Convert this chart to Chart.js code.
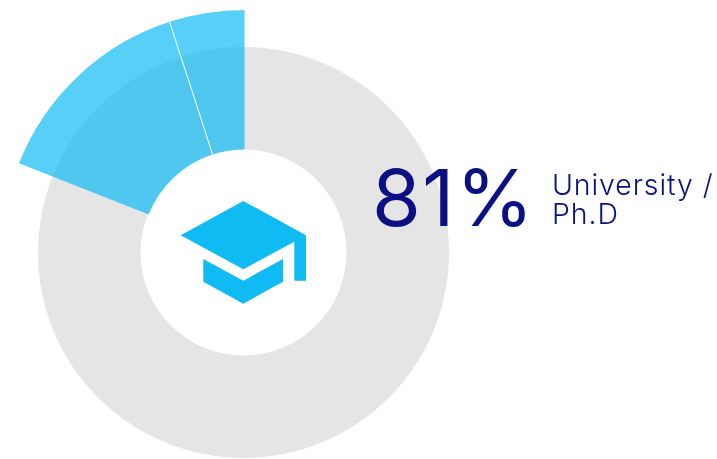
<!DOCTYPE html>
<html lang="en">
<head>
    <meta charset="UTF-8">
    <title>Education level</title>
    <script src="https://cdn.jsdelivr.net/npm/chart.js@4.4.0/dist/chart.umd.js"></script>
    <style>
        html, body { margin: 0; padding: 0; background: #fff; }
        body { position: relative; width: 717px; height: 459px; overflow: hidden; font-family: Inter, sans-serif; color: #0a0f82; }
        canvas { position: absolute; }
        #ringChart { left: 38px; top: 47px; }
        #shareChart { left: 2px; top: 10px; }
        #icon { position: absolute; left: 0; top: 0; }
        #bigNumber { position: absolute; left: 372px; top: 150px; font-size: 79px; line-height: 94px; font-weight: 400; letter-spacing: 1.5px; white-space: nowrap; }
        #caption { position: absolute; left: 552px; top: 170px; font-size: 28.5px; line-height: 29px; font-weight: 300; letter-spacing: 0.9px; white-space: nowrap; }
    </style>
</head>
<body>
    <canvas id="ringChart" width="411" height="411"></canvas>
    <canvas id="shareChart" width="485" height="485"></canvas>

    <svg id="icon" width="717" height="459" fill="#10bbf3">
        <polygon points="243.3,201 306,235.3 306,280.7 294.3,280.7 294.3,241.7 243.3,269.3 180.7,235.3"/>
        <polygon points="203.3,259 243.3,280.7 283,259 283,281.7 243.3,303.7 203.3,281.7"/>
    </svg>

    <div id="bigNumber"></div>
    <div id="caption">University /<br>Ph.D</div>

    <script>
        const categories = ['University / Ph.D', 'Part two', 'Part one'];
        const shareValues = [81, 14, 5];
        const ringValues = [100];

        const grey = '#e5e5e5';
        const blue = 'rgba(16, 187, 243, 0.7)';

        document.getElementById('bigNumber').textContent = shareValues[0] + '%';

        const baseOptions = {
            responsive: false,
            animation: false,
            plugins: { legend: { display: false }, tooltip: { enabled: false } }
        };

        new Chart(document.getElementById('ringChart'), {
            type: 'doughnut',
            data: {
                labels: ['All'],
                datasets: [{ data: ringValues, backgroundColor: [grey], borderWidth: 0 }]
            },
            options: { ...baseOptions, cutout: 103 }
        });

        // thin white divider between the two blue slices
        const dividerPlugin = {
            id: 'divider',
            afterDatasetsDraw(chart) {
                const arc = chart.getDatasetMeta(0).data[2];
                const ctx = chart.ctx;
                ctx.save();
                ctx.strokeStyle = '#fff';
                ctx.lineWidth = 1;
                ctx.beginPath();
                ctx.moveTo(arc.x + arc.innerRadius * Math.cos(arc.startAngle), arc.y + arc.innerRadius * Math.sin(arc.startAngle));
                ctx.lineTo(arc.x + arc.outerRadius * Math.cos(arc.startAngle), arc.y + arc.outerRadius * Math.sin(arc.startAngle));
                ctx.stroke();
                ctx.restore();
            }
        };

        new Chart(document.getElementById('shareChart'), {
            type: 'doughnut',
            data: {
                labels: categories,
                datasets: [{ data: shareValues, backgroundColor: ['transparent', blue, blue], borderWidth: 0 }]
            },
            options: { ...baseOptions, cutout: 103 },
            plugins: [dividerPlugin]
        });
    </script>
</body>
</html>
